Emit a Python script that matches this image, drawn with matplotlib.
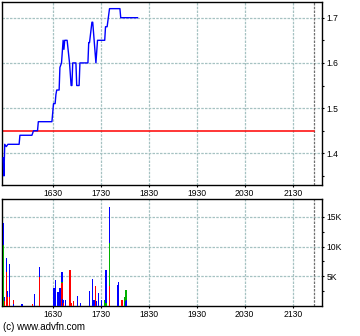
import matplotlib
matplotlib.use("Agg")
import matplotlib.pyplot as plt
import numpy as np

plt.rcParams['font.family'] = ['Liberation Sans', 'DejaVu Sans']

# ---- data (times in minutes since midnight) ----
price_time = [928, 929, 930, 932, 934, 948, 949, 964, 966, 971, 972, 989, 991, 993,
              994, 995, 998, 999, 1001, 1003, 1004, 1005, 1008, 1011, 1013, 1014,
              1015, 1019, 1020, 1023, 1024, 1034, 1035, 1036, 1039, 1040, 1044,
              1046, 1055, 1056, 1058, 1061, 1074, 1075, 1096]
price_value = [1.39, 1.35, 1.42, 1.415, 1.42, 1.42, 1.44, 1.44, 1.45, 1.45, 1.47,
               1.47, 1.51, 1.51, 1.53, 1.54, 1.54, 1.59, 1.60, 1.65, 1.63, 1.65,
               1.65, 1.60, 1.55, 1.55, 1.60, 1.60, 1.55, 1.55, 1.60, 1.60, 1.645,
               1.645, 1.69, 1.69, 1.60, 1.65, 1.65, 1.68, 1.68, 1.72, 1.72, 1.70,
               1.70]
ref_price = 1.45

vol_time = [928, 928, 929, 929, 932, 932, 933, 933, 935, 935, 940, 940, 951, 952,
            964, 967, 973, 973, 991, 993, 996, 998, 999, 1001, 1001, 1001, 1002,
            1003, 1003, 1005, 1011, 1013, 1015, 1020, 1024, 1035, 1039, 1041, 1043,
            1044, 1047, 1050, 1054, 1056, 1056, 1060, 1060, 1060, 1071, 1072, 1076,
            1079, 1081, 1081, 1082]
vol_value = [14000, 10250, 1500, 800, 8100, 5700, 2460, 1490, 7030, 1490, 930, 400,
             420, 420, 420, 1950, 6580, 4890, 2970, 4440, 2290, 2970, 3080, 5680,
             4100, 3860, 1150, 1070, 500, 1000, 6020, 480, 850, 1730, 480, 2510,
             4490, 1050, 3300, 900, 2200, 930, 1000, 6020, 500, 16640, 10540, 3420,
             3470, 4040, 930, 1490, 2630, 900, 930]
vol_type = ['b', 'g', 'b', 'r', 'b', 'r', 'b', 'r', 'b', 'r', 'r', 'b',
            'b', 'b', 'r', 'b', 'b', 'r', 'b', 'b', 'b', 'b', 'b', 'b',
            'g', 'r', 'b', 'b', 'r', 'b', 'r', 'r', 'r', 'b', 'b', 'b',
            'b', 'b', 'r', 'b', 'b', 'b', 'g', 'b', 'g', 'b', 'g', 'r',
            'b', 'b', 'r', 'g', 'g', 'b', 'b']

tick_time = [990, 1050, 1110, 1170, 1230, 1290]
tick_label = ['1630', '1730', '1830', '1930', '2030', '2130']
session_end = 1317
price_ticks = [1.4, 1.5, 1.6, 1.7]
vol_ticks = [5000, 10000, 15000]
vol_tick_label = ['5K', '10K', '15K']

colour_map = {'b': '#0000ff', 'r': '#ff0000', 'g': '#00b000'}

W, H = 360, 336
fig = plt.figure(figsize=(W / 100, H / 100), dpi=100)
fig.patch.set_facecolor('white')

x0, x1 = 2 / W, 322 / W
ax1 = fig.add_axes([x0, 1 - 185 / H, x1 - x0, 183 / H])
ax2 = fig.add_axes([x0, 1 - 306 / H, x1 - x0, 107 / H])

xlim = (926.6, 1326.6)
grid_kw = dict(color='#a6c2c2', linestyle=(0, (2, 1)), linewidth=0.9)

for ax in (ax1, ax2):
    ax.set_xlim(*xlim)
    ax.set_xticks(tick_time)
    ax.set_xticklabels(tick_label)
    ax.yaxis.tick_right()
    ax.tick_params(axis='both', labelsize=6.2, length=1.5, width=0.8, pad=1.5,
                   color='black')
    ax.tick_params(axis='y', which='minor', length=1.5, width=0.8, right=True, left=False)
    for s in ax.spines.values():
        s.set_linewidth(1.0)
        s.set_color('black')
    ax.axvline(session_end, color='#707070', linestyle=(0, (2, 1)), linewidth=0.9, zorder=1)
    ax.set_axisbelow(True)

# price panel
ax1.set_ylim(1.33, 1.7347)
ax1.set_yticks(price_ticks)
ax1.set_yticklabels([f'{v:.1f}' for v in price_ticks])
ax1.set_yticks([1.35, 1.45, 1.55, 1.65], minor=True)
for t in tick_time:
    ax1.axvline(t, zorder=0, **grid_kw)
for v in price_ticks:
    ax1.axhline(v, zorder=0, **grid_kw)
ax1.plot([xlim[0], session_end], [ref_price, ref_price], color='#ff0000', linewidth=1.1, zorder=2)
ax1.plot(price_time, price_value, color='#0000ff', linewidth=1.0, zorder=3)

# volume panel
ax2.set_ylim(0, 18000)
ax2.set_yticks(vol_ticks)
ax2.set_yticklabels(vol_tick_label)
ax2.set_yticks([2500, 7500, 12500], minor=True)
for t in tick_time:
    ax2.axvline(t, zorder=0, **grid_kw)
for v in vol_ticks:
    ax2.axhline(v, zorder=0, **grid_kw)
order = np.argsort(vol_value)[::-1]
ax2.bar([vol_time[i] + 0.6 for i in order], [vol_value[i] for i in order], width=1.3,
        color=[colour_map[vol_type[i]] for i in order], edgecolor='none', linewidth=0,
        zorder=3)

fig.text(3 / W, 1 - 327 / H, '(c) www.advfn.com', fontsize=7, ha='left', va='center',
         color='black')

fig.savefig('out.png', dpi=100, facecolor='white')
